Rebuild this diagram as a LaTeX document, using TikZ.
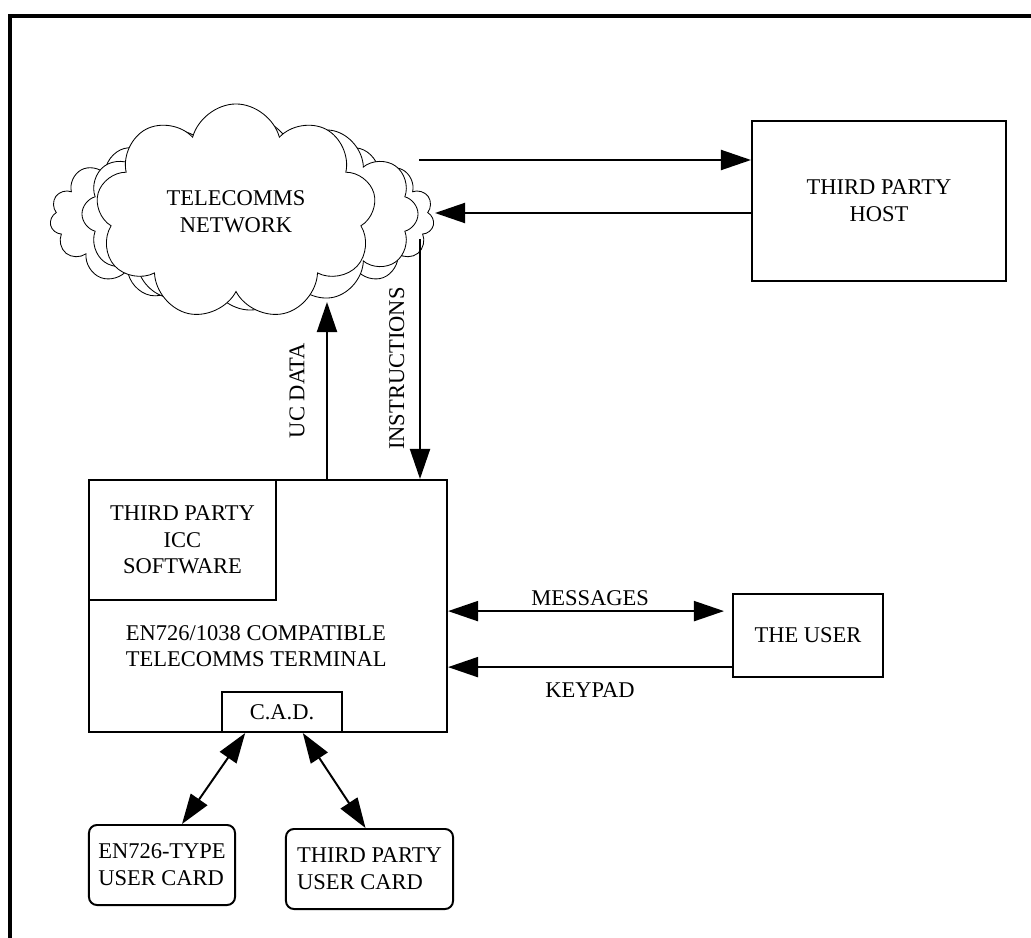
\documentclass[tikz,border=0pt]{standalone}
\usepackage{fontspec}
\setmainfont{Liberation Serif}
\usetikzlibrary{arrows.meta,shapes.symbols}

\tikzset{
  box/.style={draw, line width=1.4pt, inner sep=0pt, align=center},
  card/.style={box, rounded corners=2mm, align=left},
  puff/.style={cloud, cloud ignores aspect, draw, fill=white, line width=0.6pt, align=center},
  flow/.style={-{Triangle[length=7.5mm,width=5mm]}, line width=1.4pt},
  bothflow/.style={{Triangle[length=7.5mm,width=5mm]}-{Triangle[length=7.5mm,width=5mm]}, line width=1.4pt}
}

\begin{document}
\begin{tikzpicture}[x=0.025cm,y=-0.025cm,font=\fontsize{16}{19}\selectfont]
\useasboundingbox (0,0) rectangle (1031,938);

%FRAME
\draw[line width=2.8pt] (10,945) -- (10,16) -- (1040,16);

%CLOUD
\node[puff, cloud puffs=19, minimum width=9.6cm, minimum height=4.4cm] (netback) at (242,218) {};
\node[puff, cloud puffs=12, minimum width=8.4cm, minimum height=4.8cm] (netmid) at (250,214) {};
\node[puff, cloud puffs=9, minimum width=7cm, minimum height=5.4cm] (net) at (236,212) {TELECOMMS\\NETWORK};

%BOXES
\node[box, minimum width=6.35cm, minimum height=4cm] (host) at (879,201) {THIRD PARTY\\HOST};
\node[box, minimum width=3.75cm, minimum height=2.075cm] (user) at (808,635.5) {THE USER};

% terminal
\node[box, minimum width=8.95cm, minimum height=6.3cm] (term) at (268,606) {};
\node[box, anchor=north west, minimum width=4.675cm, minimum height=3cm] (icc) at (term.north west) {THIRD PARTY\\ICC\\SOFTWARE};
\node[align=left, anchor=west] (termtxt) at (121,646) {EN726/1038 COMPATIBLE\\TELECOMMS TERMINAL};
\node[box, anchor=south, minimum width=3cm, minimum height=1cm] (cad) at ([xshift=3.5mm]term.south) {C.A.D.};

% cards
\node[card, minimum width=3.65cm, minimum height=2cm] (card1) at (162,865) {EN726-TYPE\\USER CARD};
\node[card, minimum width=4.175cm, minimum height=2cm] (card2) at (369.5,869) {THIRD PARTY\\USER CARD};

%ARROWS
% network and host
\coordinate (netA) at (419,160);
\coordinate (netB) at (435,213);
\draw[flow] (netA) -- (netA -| host.west);
\draw[flow] (netB -| host.west) -- (netB);

% network and terminal
\coordinate (netC) at (420,239);
\coordinate (netD) at (327,302);
\draw[flow] (netC) -- (netC |- term.north) node[pos=0.54, rotate=90, above=2.5mm] {INSTRUCTIONS};
\draw[flow] (netD |- term.north) -- (netD) node[midway, rotate=90, above=4.2mm] {UC DATA};

% user
\coordinate (msgR) at ([yshift=6.1mm]user.west);
\coordinate (keyR) at ([yshift=-7.9mm]user.west);
\draw[bothflow, shorten >=2mm] (msgR -| term.east) -- (msgR) node[midway, above] {MESSAGES};
\draw[flow] (keyR) -- (keyR -| term.east) node[midway, below=2.4mm] {KEYPAD};

% cards
\draw[bothflow] ([xshift=-9.2mm]cad.south) -- ([xshift=5mm]card1.north);
\draw[bothflow] ([xshift=5.2mm]cad.south) -- ([xshift=-1mm]card2.north);

\end{tikzpicture}
\end{document}
